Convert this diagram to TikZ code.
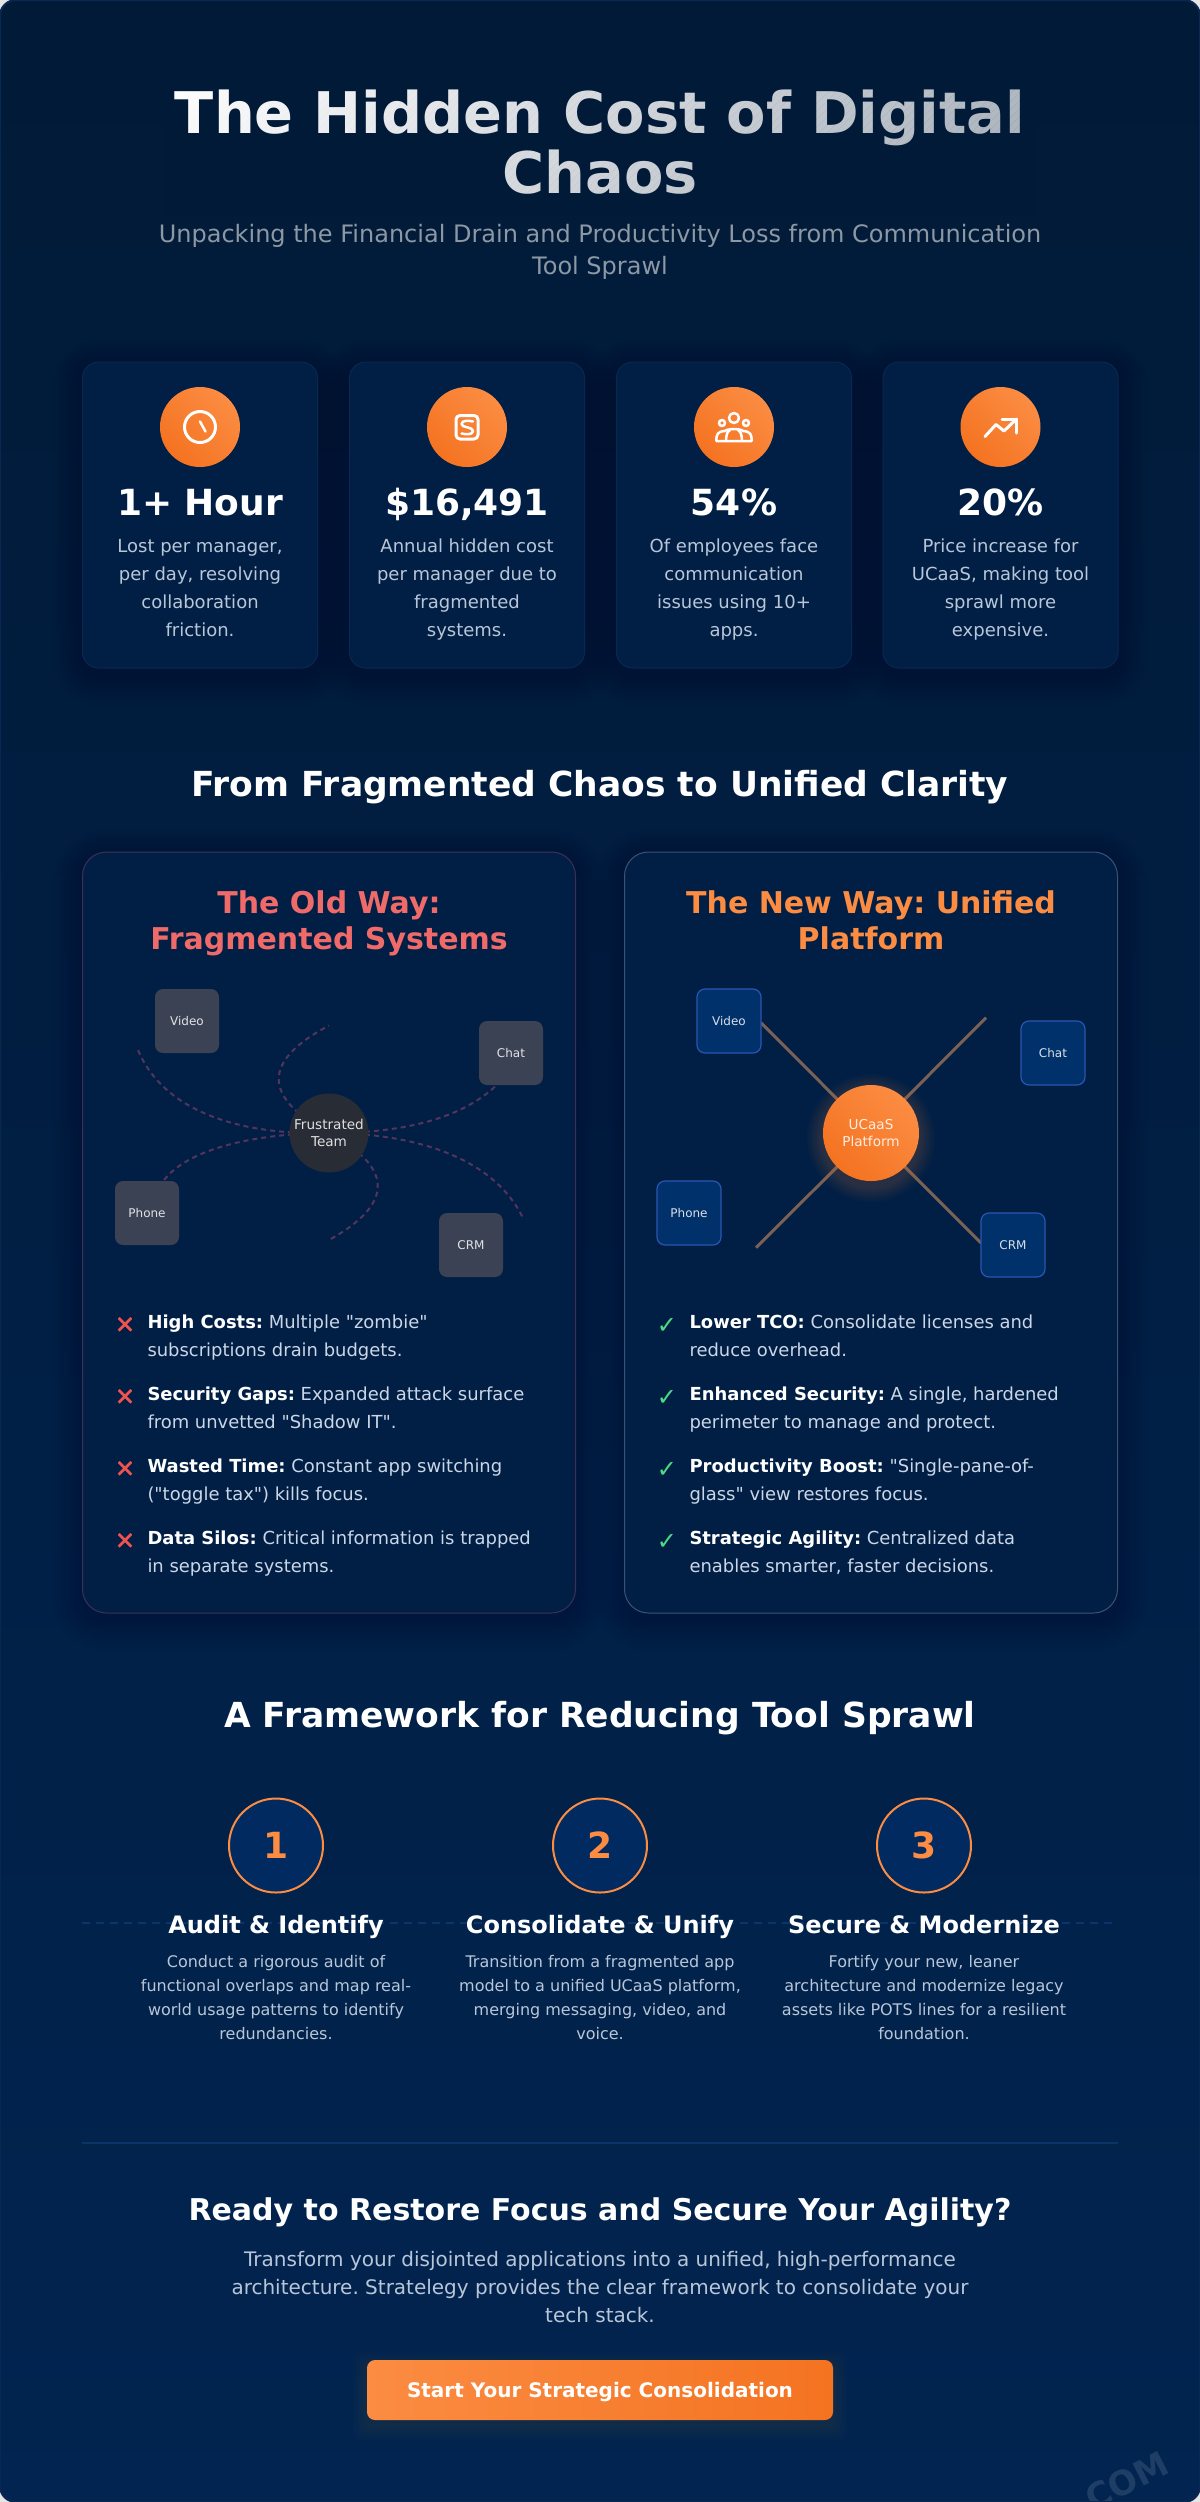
\documentclass[tikz,border=0pt]{standalone}
\usepackage{fontspec}
\setmainfont{DejaVu Sans}[Ligatures=TeXOff]
\newfontfamily\markfont{DejaVu Sans}[FakeBold=1.3]
\definecolor{bgtop}{HTML}{011A37}
\definecolor{bgbot}{HTML}{012450}
\definecolor{cardfill}{HTML}{011F45}
\definecolor{cardline}{HTML}{082852}
\definecolor{orangeA}{HTML}{FB8C42}
\definecolor{orangeB}{HTML}{F47321}
\definecolor{muted}{HTML}{B9C6D8}
\definecolor{bullet}{HTML}{CBD6E6}
\definecolor{redtitle}{HTML}{F06A6A}
\definecolor{redx}{HTML}{EF5350}
\definecolor{greencheck}{HTML}{4ADE80}
\definecolor{oldbox}{HTML}{3B4254}
\definecolor{oldhub}{HTML}{282C34}
\definecolor{oldlink}{HTML}{53345C}
\definecolor{newfill}{HTML}{01316A}
\definecolor{newline}{HTML}{2A55B0}
\definecolor{newlink}{HTML}{7A6155}
\definecolor{stepfill}{HTML}{012B60}
\definecolor{rulecol}{HTML}{0C3468}
\newcommand{\fsz}[2]{\fontsize{#1}{#2}\selectfont}
\tikzset{
  x=0.5pt,y=-0.5pt,
  every node/.style={inner sep=0pt,outer sep=0pt},
  statcard/.style={rounded corners=8pt,fill=cardfill,draw=cardline,line width=.5pt,minimum width=117.5pt,minimum height=153pt},
  icondisc/.style={circle,minimum size=40pt,left color=orangeA,right color=orangeB,shading angle=-45},
  iconline/.style={draw=white,line width=1.5pt,line cap=round,line join=round},
  statnum/.style={anchor=base,text=white,font=\bfseries\fsz{18}{22}},
  statdesc/.style={anchor=base,align=center,text=muted,font=\fsz{9}{14}},
  section/.style={anchor=base,text=white,font=\bfseries\fsz{17.25}{21}},
  panel/.style={rounded corners=12pt,fill=cardfill,line width=.5pt,minimum width=246.5pt,minimum height=380.5pt},
  paneltitle/.style={anchor=base,align=center,font=\bfseries\fsz{15}{18}},
  oldtool/.style={rounded corners=4pt,fill=oldbox,text=white!85!oldbox,minimum size=32pt,font=\fsz{6}{8}},
  newtool/.style={rounded corners=4pt,fill=newfill,draw=newline,line width=.6pt,text=white!85!newfill,minimum size=32pt,font=\fsz{6}{8}},
  hubtext/.style={align=center,font=\fsz{6.8}{8.5}},
  oldedge/.style={draw=oldlink,line width=1pt,dash pattern=on 2.5pt off 2pt},
  newedge/.style={draw=newlink,line width=1.5pt},
  crossmark/.style={anchor=base,font=\markfont\fsz{12}{14}},
  checkmark/.style={anchor=base,font=\bfseries\fsz{12}{14}},
  bullettext/.style={anchor=base west,align=left,text=bullet,font=\fsz{8.97}{14.1}},
  stepdisc/.style={circle,fill=stepfill,draw=orangeA,line width=1pt,minimum size=47pt,text=orangeA,font=\bfseries\fsz{18}{20}},
  steptitle/.style={anchor=base,text=white,font=\bfseries\fsz{12}{15}},
  stepdesc/.style={anchor=base,align=center,text=muted,font=\fsz{8}{12}},
}
\newcommand{\softshadow}[6]{%
  \foreach \e in {3,6,...,30}{%
    \pgfmathsetmacro{\rr}{(#5+\e)*0.5}%
    \fill[black,opacity=#6,rounded corners=\rr pt]
      (#1-\e,#2-\e+8) rectangle (#3+\e,#4+\e+8);}}
\newcommand{\softglow}[4]{%
  \foreach \e in {2,4,...,#4}{%
    \fill[orangeA,opacity=0.022] (#1,#2+5) circle[radius=#3+\e];}}
\begin{document}
\frenchspacing
\begin{tikzpicture}
\useasboundingbox (0,0) rectangle (1200,2502);
\fill[white!90!black] (0,0) rectangle (1200,2502);
\begin{scope}
\clip[rounded corners=8pt] (0,0) rectangle (1200,2502);
\shade[top color=bgtop,bottom color=bgbot] (0,0) rectangle (1200,2502);
\node[rotate=27,text=white!12!bgbot,font=\bfseries\fsz{17}{20}] (mark) at (1127,2481) {COM};
\end{scope}
\draw[cardline,line width=1pt,rounded corners=8pt] (0,0) rectangle (1200,2502);

% ---------- header
\node[anchor=base,align=center,text=white,font=\bfseries\fsz{28.7}{30}] (title) at (600,193) {The Hidden Cost of Digital\\Chaos};
\begin{scope}
\clip (165,70) rectangle (1035,215);
\foreach \s in {170,178,...,1170}{
  \pgfmathsetmacro{\op}{0.36*(\s-170)/1000}
  \fill[bgtop,opacity=\op] (\s,70) -- (\s+8,70) -- (\s-137,215) -- (\s-145,215) -- cycle;}
\end{scope}
\node[anchor=base,align=center,text=white!55!bgtop,font=\fsz{12}{16}] (sub) at (600,274) {Unpacking the Financial Drain and Productivity Loss from Communication\\Tool Sprawl};

% ---------- stat cards
\softshadow{82.5}{362}{317.5}{668}{16}{0.006}
\softshadow{349.5}{362}{584.5}{668}{16}{0.006}
\softshadow{616.5}{362}{851.5}{668}{16}{0.006}
\softshadow{883}{362}{1118}{668}{16}{0.006}
\node[statcard] (card1) at (200,515) {};
\node[statcard] (card2) at (467,515) {};
\node[statcard] (card3) at (734,515) {};
\node[statcard] (card4) at (1000.5,515) {};
\node[icondisc] (disc1) at (200,427) {};
\node[icondisc] (disc2) at (467,427) {};
\node[icondisc] (disc3) at (734,427) {};
\node[icondisc] (disc4) at (1000.5,427) {};
% clock
\draw[iconline] (200,427) circle[radius=15.5];
\draw[iconline,line width=1.25pt] (200,421.5) -- (205.5,431.5);
% banknote
\draw[iconline,rounded corners=2pt] (456,415.5) rectangle (478,439);
\draw[iconline,line width=1.25pt] (473,421.5) .. controls (468,420.5) and (462,420) .. (461.5,424) .. controls (461.5,428) and (473,426.5) .. (473,431) .. controls (473,435) and (466,434.5) .. (461.5,433.5);
% users
\draw[iconline,line width=1.25pt] (734,418) circle[radius=5];
\draw[iconline,line width=1.25pt] (722,423) circle[radius=3];
\draw[iconline,line width=1.25pt] (746,423) circle[radius=3];
\draw[iconline,line width=1.25pt] (716.5,441) -- (751.5,441) .. controls (752,434) and (750,431.5) .. (743,431) .. controls (741,428.5) and (727,428.5) .. (725,431) .. controls (718,431.5) and (716,434) .. (716.5,441);
\draw[iconline,line width=1.25pt] (726,441) .. controls (726,434) and (728,431) .. (730,430);
\draw[iconline,line width=1.25pt] (742,441) .. controls (742,434) and (740,431) .. (738,430);
% trend
\draw[iconline] (985,436.5) -- (996,424.5) -- (1004,431) -- (1016.5,419);
\draw[iconline] (1002,419) -- (1016.5,419) -- (1016.5,433);

\node[statnum] (num1) at (200,515) {1+ Hour};
\node[statnum] (num2) at (467,515) {\$16,491};
\node[statnum] (num3) at (734,515) {54\%};
\node[statnum] (num4) at (1000.5,515) {20\%};
\node[statdesc] (desc1) at (200,636) {Lost per manager,\\per day, resolving\\collaboration\\friction.};
\node[statdesc] (desc2) at (467,636) {Annual hidden cost\\per manager due to\\fragmented\\systems.};
\node[statdesc] (desc3) at (734,636) {Of employees face\\communication\\issues using 10+\\apps.};
\node[statdesc] (desc4) at (1000.5,636) {Price increase for\\UCaaS, making tool\\sprawl more\\expensive.};

% ---------- comparison
\node[section] (compare) at (600,796) {From Fragmented Chaos to Unified Clarity};
\softshadow{82.5}{852}{575.5}{1613}{24}{0.01}
\softshadow{624.5}{852}{1117.5}{1613}{24}{0.01}
\node[panel,draw=oldlink!70!cardline] (oldpanel) at (329,1232.5) {};
\node[panel,draw=white!20!cardline] (newpanel) at (871,1232.5) {};
\node[paneltitle,text=redtitle] (oldtitle) at (329,949.5) {The Old Way:\\Fragmented Systems};
\node[paneltitle,text=orangeA] (newtitle) at (871,949.5) {The New Way: Unified\\Platform};

% old diagram
\node[oldtool] (oldvideo) at (187,1021) {Video};
\node[oldtool] (oldchat) at (511,1053) {Chat};
\node[oldtool] (oldphone) at (147,1213) {Phone};
\node[oldtool] (oldcrm) at (471,1245) {CRM};
\coordinate (oldhubc) at (329,1133);
\coordinate (freeA) at (136.7,1046.7);
\coordinate (freeB) at (329,1025.5);
\coordinate (freeC) at (523,1218);
\coordinate (freeD) at (329,1240);
\draw[oldedge] (oldhubc) .. controls (233,1135.5) and (160,1108) .. (freeA);
\draw[oldedge] (oldhubc) .. controls (262,1097) and (262,1061) .. (freeB);
\draw[oldedge] (oldhubc) .. controls (385,1133) and (455,1125) .. (oldchat.246);
\draw[oldedge] (oldhubc) .. controls (268,1133) and (190,1145) .. (oldphone.63);
\draw[oldedge] (oldhubc) .. controls (398,1133) and (490,1150) .. (freeC);
\draw[oldedge] (oldhubc) .. controls (394,1168) and (394,1204) .. (freeD);
\node[circle,fill=oldhub,minimum size=39.5pt,text=white!85!oldhub,hubtext] (oldhub) at (oldhubc) {Frustrated\\Team};

% new diagram
\coordinate (newhubc) at (871,1133);
\coordinate (endA) at (761,1022.7);
\coordinate (endB) at (986,1017.7);
\coordinate (endC) at (756,1247.7);
\coordinate (endD) at (981,1243);
\draw[newedge] (newhubc) -- (endA);
\draw[newedge] (newhubc) -- (endB);
\draw[newedge] (newhubc) -- (endC);
\draw[newedge] (newhubc) -- (endD);
\node[newtool] (newvideo) at (729,1021) {Video};
\node[newtool] (newchat) at (1053,1053) {Chat};
\node[newtool] (newphone) at (689,1213) {Phone};
\node[newtool] (newcrm) at (1013,1245) {CRM};
\softglow{871}{1133}{48}{16}
\node[circle,minimum size=48pt,left color=orangeA,right color=orangeB,shading angle=-45,text=white!85!orangeA,hubtext] (newhub) at (newhubc) {UCaaS\\Platform};

% old bullets
\node[crossmark,text=redx] (x1) at (125,1333) {✕};
\node[bullettext] (b1) at (147.5,1356.5) {\textcolor{white}{\bfseries High Costs:} Multiple "zombie"\\subscriptions drain budgets.};
\node[crossmark,text=redx] (x2) at (125,1405) {✕};
\node[bullettext] (b2) at (147.5,1428.5) {\textcolor{white}{\bfseries Security Gaps:} Expanded attack surface\\from unvetted "Shadow IT".};
\node[crossmark,text=redx] (x3) at (125,1477) {✕};
\node[bullettext] (b3) at (147.5,1500.5) {\textcolor{white}{\bfseries Wasted Time:} Constant app switching\\("toggle tax") kills focus.};
\node[crossmark,text=redx] (x4) at (125,1549) {✕};
\node[bullettext] (b4) at (147.5,1572.5) {\textcolor{white}{\bfseries Data Silos:} Critical information is trapped\\in separate systems.};
% new bullets
\node[checkmark,text=greencheck] (c1) at (667,1333) {✓};
\node[bullettext] (n1) at (689.5,1356.5) {\textcolor{white}{\bfseries Lower TCO:} Consolidate licenses and\\reduce overhead.};
\node[checkmark,text=greencheck] (c2) at (667,1405) {✓};
\node[bullettext] (n2) at (689.5,1428.5) {\textcolor{white}{\bfseries Enhanced Security:} A single, hardened\\perimeter to manage and protect.};
\node[checkmark,text=greencheck] (c3) at (667,1477) {✓};
\node[bullettext] (n3) at (689.5,1500.5) {\textcolor{white}{\bfseries Productivity Boost:} "Single-pane-of-\\glass" view restores focus.};
\node[checkmark,text=greencheck] (c4) at (667,1549) {✓};
\node[bullettext] (n4) at (689.5,1572.5) {\textcolor{white}{\bfseries Strategic Agility:} Centralized data\\enables smarter, faster decisions.};

% ---------- framework
\node[section] (framework) at (600,1727) {A Framework for Reducing Tool Sprawl};
\coordinate (dashL) at (82,1923);
\coordinate (dashR) at (1118,1923);
\draw[rulecol,line width=1pt,dash pattern=on 4pt off 3pt] (dashL) -- (dashR);
\node[stepdisc] (s1) at (276,1845.5) {1};
\node[stepdisc] (s2) at (600,1845.5) {2};
\node[stepdisc] (s3) at (924,1845.5) {3};
\node[steptitle] (t1) at (276,1933) {Audit \& Identify};
\node[steptitle] (t2) at (600,1933) {Consolidate \& Unify};
\node[steptitle] (t3) at (924,1933) {Secure \& Modernize};
\node[stepdesc] (d1) at (276,2039) {Conduct a rigorous audit of\\functional overlaps and map real-\\world usage patterns to identify\\redundancies.};
\node[stepdesc] (d2) at (600,2039) {Transition from a fragmented app\\model to a unified UCaaS platform,\\merging messaging, video, and\\voice.};
\node[stepdesc] (d3) at (924,2039) {Fortify your new, leaner\\architecture and modernize legacy\\assets like POTS lines for a resilient\\foundation.};

% ---------- call to action
\coordinate (ruleL) at (82,2143);
\coordinate (ruleR) at (1118,2143);
\draw[rulecol,line width=1pt] (ruleL) -- (ruleR);
\node[anchor=base,text=white,font=\bfseries\fsz{15}{20}] (cta) at (600,2220) {Ready to Restore Focus and Secure Your Agility?};
\node[anchor=base,align=center,text=muted,font=\fsz{10}{14}] (ctatext) at (600,2322) {Transform your disjointed applications into a unified, high-performance\\architecture. Stratelegy provides the clear framework to consolidate your\\tech stack.};
\foreach \e in {2,4,...,14}{\fill[orangeA,opacity=0.012,rounded corners=4pt] (367-\e,2360-\e+6) rectangle (833+\e,2420+\e+6);}
\node[rounded corners=4pt,left color=orangeA,right color=orangeB,minimum width=233pt,minimum height=30pt] (button) at (600,2390) {};
\node[anchor=base,text=white,font=\bfseries\fsz{10}{12}] (buttontext) at (600,2397) {Start Your Strategic Consolidation};
\end{tikzpicture}
\end{document}
